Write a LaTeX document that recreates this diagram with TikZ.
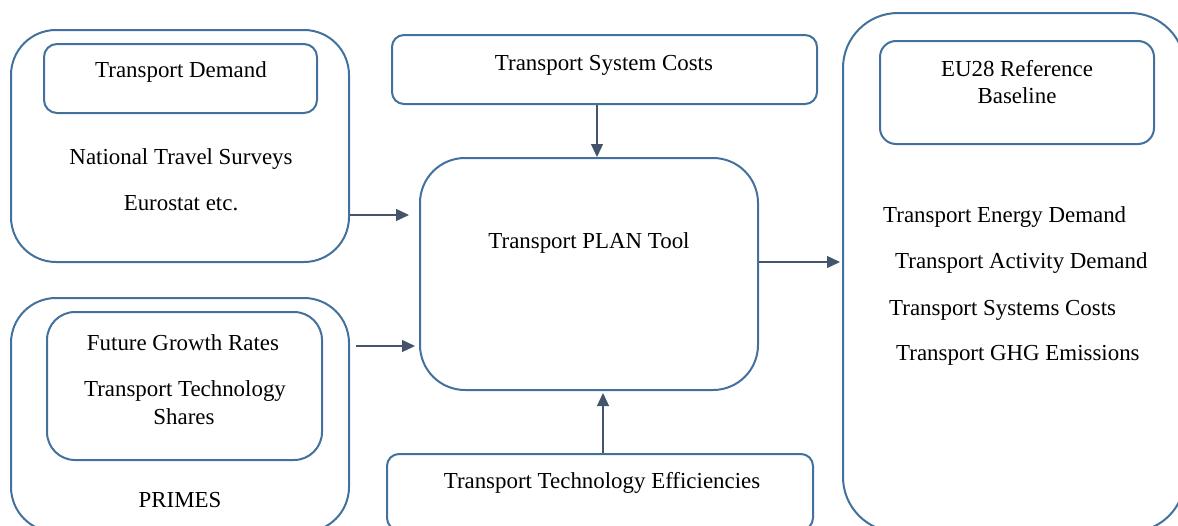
\documentclass[tikz,border=0pt]{standalone}
\usepackage{fontspec}
\setmainfont{Liberation Serif}
\usetikzlibrary{arrows.meta}
\definecolor{boxblue}{HTML}{41719C}
\definecolor{arrowgray}{HTML}{44546A}
\begin{document}
\begin{tikzpicture}[x=1pt,y=-1pt,
  frame/.style={draw=boxblue, line width=2pt, rounded corners=#1, inner sep=0pt, rectangle},
  label/.style={inner sep=0pt, anchor=base, font=\fontsize{22.9}{27}\selectfont},
  item/.style={inner sep=0pt, anchor=base west, font=\fontsize{22.9}{27}\selectfont},
  arr/.style={draw=arrowgray, line width=1.3pt, -{Triangle[length=13pt,width=12pt]}}]
\useasboundingbox (0,0) rectangle (1178,525);
\clip (0,0) rectangle (1178,525);

% left column: data sources
\node[frame=45pt, minimum width=338pt, minimum height=232pt] (surveys) at (180,146) {};
\node[frame=13pt, minimum width=273pt, minimum height=69pt] (demand) at (180.5,78.5) {};
\node[label] (tdemand) at (181,77) {Transport Demand};
\node[label] (nts) at (181,164) {National Travel Surveys};
\node[label] (euro) at (181,210) {Eurostat etc.};

\node[frame=45pt, minimum width=338pt, minimum height=234pt] (primes) at (180,415) {};
\node[frame=28pt, minimum width=275pt, minimum height=148pt] (growth) at (184.5,386) {};
\node[label] (fgr) at (183,350) {Future Growth Rates};
\node[label] (tts1) at (185,396) {Transport Technology};
\node[label] (tts2) at (184,424) {Shares};
\node[label] (primeslbl) at (180,507) {PRIMES};

% middle column: the tool and its cost / efficiency inputs
\node[frame=12pt, minimum width=425pt, minimum height=69pt] (costs) at (604.5,69.5) {};
\node[label] (costslbl) at (604,70) {Transport System Costs};

\node[frame=45pt, minimum width=338pt, minimum height=232pt] (plan) at (589,274) {};
\node[label] (planlbl) at (589,248) {Transport PLAN Tool};

\node[frame=12pt, minimum width=426pt, minimum height=76pt] (eff) at (600,492) {};
\node[label] (efflbl) at (602,488) {Transport Technology Efficiencies};

% right column: outputs
\node[frame=55pt, minimum width=342pt, minimum height=519pt] (outputs) at (1014,272.5) {};
\node[frame=16pt, minimum width=274pt, minimum height=103pt] (eu28) at (1017,92.5) {};
\node[label] (eu28a) at (1017,76) {EU28 Reference};
\node[label] (eu28b) at (1017,103) {Baseline};
\node[item] (o1) at (883,222) {Transport Energy Demand};
\node[item] (o2) at (895,268) {Transport Activity Demand};
\node[item] (o3) at (889,315) {Transport Systems Costs};
\node[item] (o4) at (896,360) {Transport GHG Emissions};

% connectors
\draw[arr, shorten >=10pt] (surveys.east |- 0,215) -- (plan.west |- 0,215);
\draw[arr, shorten <=6pt, shorten >=4pt] (primes.east |- 0,346) -- (plan.west |- 0,346);
\draw[arr] (costs.south -| 597,0) -- (plan.north -| 597,0);
\draw[arr, shorten >=2pt] (eff.north -| 603,0) -- (plan.south -| 603,0);
\draw[arr, shorten >=2pt] (plan.east |- 0,262) -- (outputs.west |- 0,262);
\end{tikzpicture}
\end{document}
